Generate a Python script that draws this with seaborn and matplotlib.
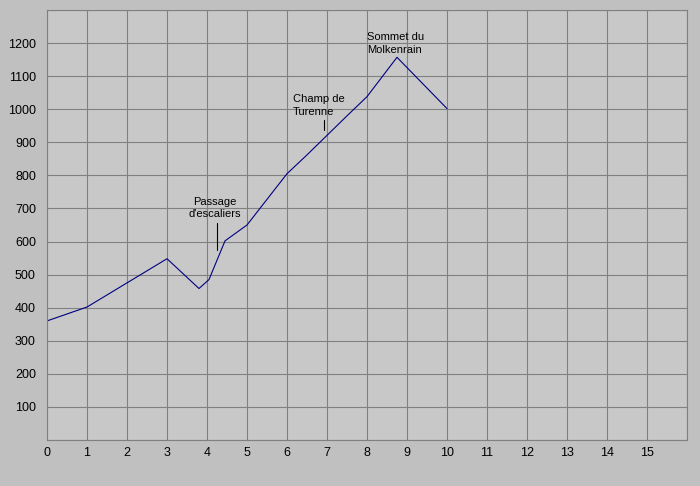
import matplotlib
matplotlib.use("Agg")
import matplotlib.pyplot as plt
import seaborn as sns
import pandas as pd

# profile: distance (km) vs altitude (m)
distance = [0, 1, 2, 3, 3.8, 4.05, 4.45, 5, 6, 6.5, 7.5, 8, 8.75, 10]
altitude = [360, 402, 475, 548, 458, 485, 602, 650, 805, 862, 980, 1038, 1157, 1002]

# annotations: label, text x, text y (bottom of text), marker x, marker y0, marker y1
labels = ["Passage\nd'escaliers", "Champ de\nTurenne", "Sommet du\nMolkenrain"]
label_x = [4.2, 6.15, 8.0]
label_y = [667, 977, 1165]
label_ha = ["center", "left", "left"]
tick_x = [4.24, 6.93, None]
tick_y0 = [573, 937, None]
tick_y1 = [655, 968, None]

x_ticks = list(range(0, 16))
y_ticks = list(range(100, 1300, 100))

df = pd.DataFrame({"distance": distance, "altitude": altitude})

sns.set_style("white")
plt.rcParams["font.family"] = ["Liberation Sans", "DejaVu Sans"]

fig = plt.figure(figsize=(7, 4.86), dpi=100, facecolor="#c0c0c0")
ax = fig.add_axes([47 / 700, 46 / 486, 640 / 700, 430 / 486])
ax.set_facecolor("#c8c8c8")

sns.lineplot(data=df, x="distance", y="altitude", sort=False, color="#000080",
             linewidth=0.8, ax=ax)

ax.set_xlim(0, 16)
ax.set_ylim(0, 1300)
ax.set_xticks(list(range(0, 17)))
ax.set_xticklabels([str(t) for t in x_ticks] + [""])
ax.set_yticks(list(range(0, 1400, 100)))
ax.set_yticklabels([""] + [str(t) for t in y_ticks] + [""])
ax.grid(True, color="#808080", linewidth=0.8)
ax.set_axisbelow(True)
for s in ax.spines.values():
    s.set_color("#808080")
    s.set_linewidth(0.8)
ax.tick_params(length=0, labelsize=9, colors="black")
ax.tick_params(axis="x", pad=5)
ax.tick_params(axis="y", pad=8)
ax.set_xlabel("")
ax.set_ylabel("")

for lab, lx, ly, ha, tx, t0, t1 in zip(labels, label_x, label_y, label_ha, tick_x, tick_y0, tick_y1):
    ax.text(lx, ly, lab, ha=ha, va="bottom", fontsize=8, linespacing=1.35, color="black")
    if tx is not None:
        ax.plot([tx, tx], [t0, t1], color="black", linewidth=0.8)

fig.savefig("out.png", dpi=100, facecolor=fig.get_facecolor())
